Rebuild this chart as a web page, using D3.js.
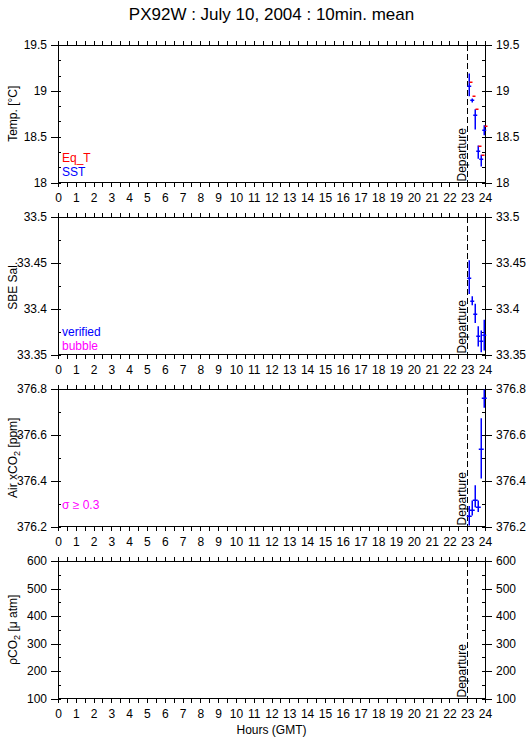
<!DOCTYPE html>
<html><head><meta charset="utf-8">
<script src="https://cdn.jsdelivr.net/npm/d3@7"></script>
<style>
body{margin:0;background:#fff;}
svg{font-family:"Liberation Sans",Arial,Helvetica,sans-serif;}
</style></head>
<body><svg id="c" width="529" height="739"></svg>
<script>
// ---- data ----
const hourTicks = d3.range(0, 25, 1);
const times = [23.083, 23.25, 23.417, 23.583, 23.75, 23.917];
const departureHour = 23;

const eqT   = [19.10, 18.94, 18.80, 18.40, 18.30, 18.62];
const sst   = [19.05, 18.90, 18.74, 18.34, 18.26, 18.57];
const sstLo = [18.94, 18.873, 18.577, 18.259, 18.175, 18.515];
const sstHi = [19.19, 18.916, 18.80, 18.405, 18.303, 18.624];

const sal   = [33.433, 33.408, 33.394, 33.370, 33.365, 33.371];
const salLo = [33.416, 33.4036, 33.3843, 33.3588, 33.3525, 33.3544];
const salHi = [33.4529, 33.4135, 33.4055, 33.3807, 33.3763, 33.388];

const xco2   = [376.248, 376.274, 376.317, 376.284, 376.540, 376.762];
const xco2Lo = [376.204, 376.248, 376.284, 376.263, 376.409, 376.718];
const xco2Hi = [376.289, 376.314, 376.380, 376.314, 376.672, 376.798];

const tempTicks = [18, 18.5, 19, 19.5];
const salTicks  = [33.35, 33.4, 33.45, 33.5];
const co2Ticks  = [376.2, 376.4, 376.6, 376.8];
const pco2Ticks = [100, 200, 300, 400, 500, 600];

// ---- layout ----
const svg = d3.select("#c");
const X0 = 58, X1 = 485;
const x = d3.scaleLinear().domain([0, 24]).range([X0, X1]);
const tops = [45, 217, 389, 561];
const H = 137.5;

svg.append("text").attr("x", (X0 + X1) / 2).attr("y", 20).attr("text-anchor", "middle")
  .attr("font-size", 17).text("PX92W : July 10, 2004 : 10min. mean");
svg.append("text").attr("x", (X0 + X1) / 2).attr("y", 734).attr("text-anchor", "middle")
  .attr("font-size", 12).text("Hours (GMT)");

const panels = [
  {domain: [18, 19.5], ticks: tempTicks, minorStep: 0.5 / 3, fmt: d3.format("~g"),
   title: [["Temp. [°C]"]],
   legend: [["Eq_T", "#ff0000", 162], ["SST", "#0000ff", 176]]},
  {domain: [33.35, 33.5], ticks: salTicks, minorStep: 0.025, fmt: d3.format("~g"),
   title: [["SBE Sal."]],
   legend: [["verified", "#0000ff", 335.5], ["bubble", "#ff00ff", 349.5]]},
  {domain: [376.2, 376.8], ticks: co2Ticks, minorStep: 0.1, fmt: d3.format(".1f"),
   title: [["Air xCO"], ["2", "sub"], [" [ppm]"]],
   legend: [["σ ≥ 0.3", "#ff00ff", 509]]},
  {domain: [100, 600], ticks: pco2Ticks, minorStep: 50, fmt: d3.format("d"),
   title: [["ρCO"], ["2", "sub"], [" [μ atm]"]],
   legend: []}
];

function styleAxis(g) {
  g.select(".domain").remove();
  g.selectAll("line").attr("stroke", "#000").attr("shape-rendering", "crispEdges");
  g.selectAll("text").attr("font-size", 12).attr("fill", "#000");
}

panels.forEach((p, i) => {
  const top = tops[i], bot = top + H;
  const y = d3.scaleLinear().domain(p.domain).range([bot, top]);
  p.y = y;
  const g = svg.append("g");

  const halfHours = d3.range(0, 24.01, 0.5);
  g.append("g").attr("transform", `translate(0,${top})`)
    .call(d3.axisTop(x).tickValues(halfHours).tickSize(4).tickFormat(""))
    .call(styleAxis);
  g.append("g").attr("transform", `translate(0,${bot})`)
    .call(d3.axisBottom(x).tickValues(halfHours).tickSize(4).tickFormat(""))
    .call(styleAxis);
  g.append("g").attr("transform", `translate(0,${bot})`)
    .call(d3.axisBottom(x).tickValues(hourTicks).tickSize(4).tickPadding(7).tickFormat(d3.format("d")))
    .call(styleAxis);

  const minors = d3.range(p.domain[0], p.domain[1] + p.minorStep / 2, p.minorStep);
  g.append("g").attr("transform", `translate(${X0},0)`)
    .call(d3.axisLeft(y).tickValues(p.ticks).tickSize(7).tickPadding(4).tickFormat(p.fmt))
    .call(styleAxis);
  g.append("g").attr("transform", `translate(${X0},0)`)
    .call(d3.axisLeft(y).tickValues(minors).tickSize(-3).tickFormat(""))
    .call(styleAxis);
  g.append("g").attr("transform", `translate(${X1},0)`)
    .call(d3.axisRight(y).tickValues(p.ticks).tickSize(7).tickPadding(4).tickFormat(p.fmt))
    .call(styleAxis);
  g.append("g").attr("transform", `translate(${X1},0)`)
    .call(d3.axisRight(y).tickValues(minors).tickSize(-3).tickFormat(""))
    .call(styleAxis);

  g.append("rect").attr("x", X0).attr("y", top).attr("width", X1 - X0).attr("height", H)
    .attr("fill", "none").attr("stroke", "#000").attr("shape-rendering", "crispEdges");

  g.append("line").attr("x1", x(departureHour)).attr("x2", x(departureHour))
    .attr("y1", top).attr("y2", bot).attr("stroke", "#000")
    .attr("stroke-dasharray", "6,3").attr("shape-rendering", "crispEdges");
  g.append("text").attr("transform", `translate(${x(departureHour) - 1},${bot - 1}) rotate(-90)`)
    .attr("font-size", 12).text("Departure");

  const t = g.append("text")
    .attr("transform", `translate(17,${(top + bot) / 2}) rotate(-90)`)
    .attr("text-anchor", "middle").attr("font-size", 12);
  p.title.forEach(([s, kind]) => {
    if (kind === "sub") t.append("tspan").attr("font-size", 9).attr("dy", 3).text(s);
    else {
      const ts = t.append("tspan").text(s);
      if (t.selectAll("tspan").size() > 1) ts.attr("dy", -3);
    }
  });

  p.legend.forEach(([s, c, yy]) => {
    g.append("text").attr("x", 62).attr("y", yy).attr("font-size", 12).attr("fill", c).text(s);
  });
});

// ---- marks ----
function errCross(yScale, mean, lo, hi, color, hw) {
  const g = svg.append("g");
  times.forEach((tm, k) => {
    const cx = Math.round(x(tm)) + 0.25;
    const cy = Math.round(yScale(mean[k])) + 0.25;
    g.append("line").attr("x1", cx).attr("x2", cx)
      .attr("y1", yScale(lo[k])).attr("y2", yScale(hi[k]))
      .attr("stroke", color).attr("stroke-width", 1.5);
    g.append("line").attr("x1", cx - hw).attr("x2", cx + hw).attr("y1", cy).attr("y2", cy)
      .attr("stroke", color).attr("stroke-width", 1.5);
  });
}
function dashes(yScale, vals, color, hw, dx) {
  const g = svg.append("g");
  times.forEach((tm, k) => {
    const cx = Math.round(x(tm)) + dx;
    const cy = Math.round(yScale(vals[k])) + 0.25;
    g.append("line").attr("x1", cx - hw).attr("x2", cx + hw).attr("y1", cy).attr("y2", cy)
      .attr("stroke", color).attr("stroke-width", 1.5);
  });
}

errCross(panels[0].y, sst, sstLo, sstHi, "#0000ff", 2);
dashes(panels[0].y, eqT, "#ff0000", 1.5, 2);
errCross(panels[1].y, sal, salLo, salHi, "#0000ff", 2);
errCross(panels[2].y, xco2, xco2Lo, xco2Hi, "#0000ff", 2.5);
</script></body></html>
